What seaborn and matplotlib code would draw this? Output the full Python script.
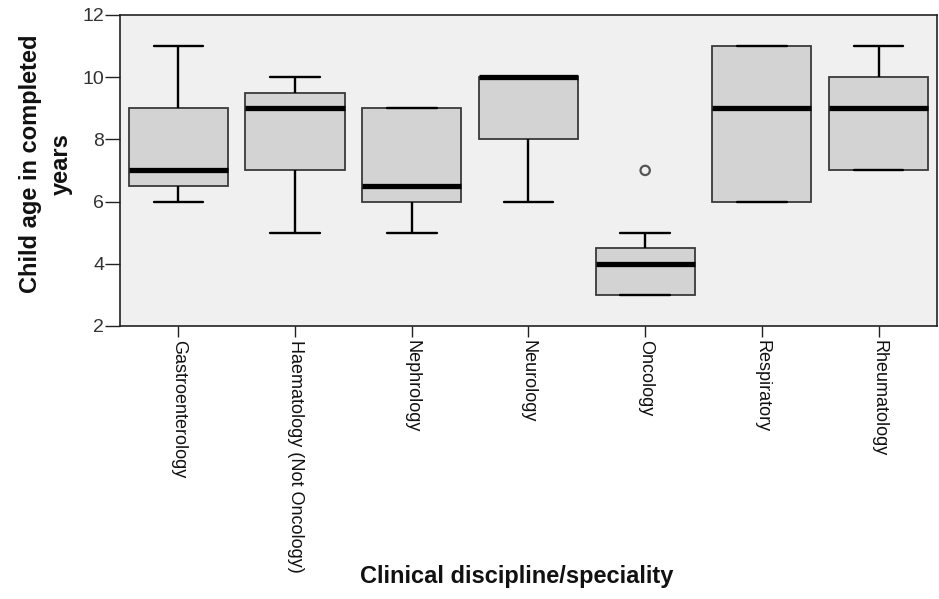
import matplotlib
matplotlib.use("Agg")
import matplotlib.pyplot as plt
import seaborn as sns
import pandas as pd

categories = ["Gastroenterology", "Haematology (Not Oncology)", "Nephrology",
              "Neurology", "Oncology", "Respiratory", "Rheumatology"]
whisker_low = [6, 5, 5, 6, 3, 6, 7]
q1 = [6.5, 7, 6, 8, 3, 6, 7]
median = [7, 9, 6.5, 10, 4, 9, 9]
q3 = [9, 9.5, 9, 10, 4.5, 11, 10]
whisker_high = [11, 10, 9, 10, 5, 11, 11]
outlier_cat = ["Oncology"]
outlier_val = [7]

rows = []
for c, a, b, m, d, e in zip(categories, whisker_low, q1, median, q3, whisker_high):
    for v in (a, b, m, d, e):
        rows.append({"cat": c, "age": v})
df = pd.DataFrame(rows)
out_df = pd.DataFrame({"cat": outlier_cat, "age": outlier_val})

sns.set_style("ticks")
plt.rcParams["font.family"] = ["Liberation Sans", "DejaVu Sans"]

fig = plt.figure(figsize=(9.39, 5.99), dpi=100)
ax = fig.add_axes([0.1278, 0.456, 0.870, 0.519])
ax.set_facecolor("#F0F0F0")

sns.boxplot(data=df, x="cat", y="age", order=categories, ax=ax,
            whis=(0, 100), width=0.85, color="#D3D3D3", fill=True,
            linecolor="#3a3a3a", linewidth=1.3,
            boxprops=dict(facecolor="#D3D3D3", edgecolor="#3a3a3a"),
            medianprops=dict(color="black", linewidth=3.8),
            whiskerprops=dict(color="black", linewidth=1.7),
            capprops=dict(color="black", linewidth=1.7),
            showfliers=False)
sns.scatterplot(data=out_df, x="cat", y="age", ax=ax, marker="o", s=45,
                facecolor="none", edgecolor="#555555", linewidth=1.6, zorder=5)

ax.set_ylim(2, 12)
ax.set_yticks([2, 4, 6, 8, 10, 12])
ax.set_xlim(-0.5, len(categories) - 0.5)
ax.tick_params(axis="y", labelsize=14, length=11, width=1, colors="#222222",
               labelcolor="#333333", pad=0.5)
ax.tick_params(axis="x", labelsize=13, length=8, width=1, colors="#222222",
               labelcolor="#111111", labelrotation=-90, pad=2)
for lab in ax.get_xticklabels():
    lab.set_verticalalignment("top")
    lab.set_horizontalalignment("center")

for s in ax.spines.values():
    s.set_color("#222222")
    s.set_linewidth(1.2)

ax.set_ylabel("Child age in completed\nyears", fontsize=17, fontweight="bold",
              linespacing=1.45, color="#111111")
ax.yaxis.set_label_coords(-0.058, 0.52)
ax.set_xlabel("Clinical discipline/speciality", fontsize=17, fontweight="bold",
              color="#111111")
ax.xaxis.set_label_coords(0.485, -0.807)
ax.xaxis.label.set_verticalalignment("center")

fig.savefig("out.png", dpi=100)
